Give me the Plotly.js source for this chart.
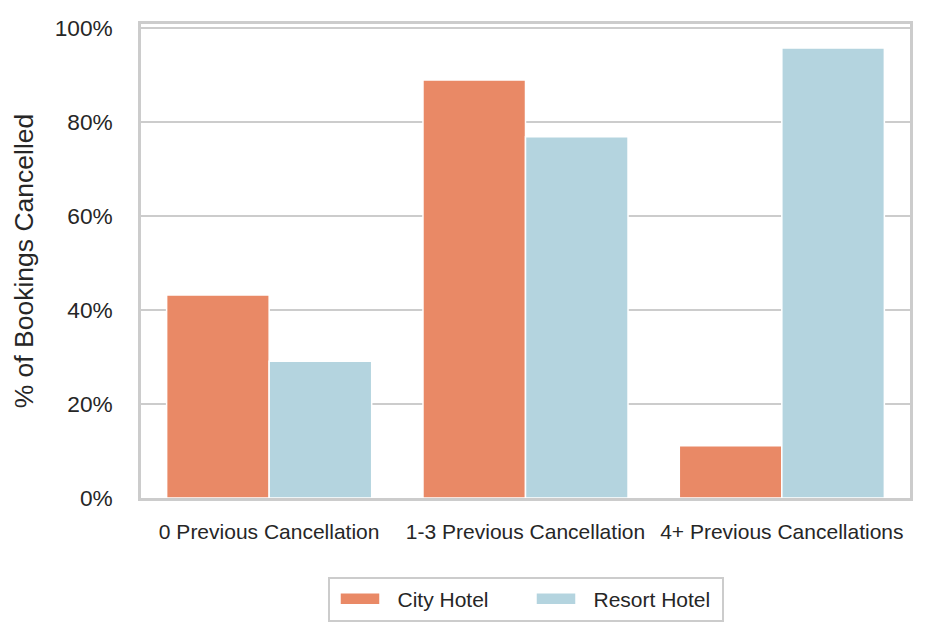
<!DOCTYPE html>
<html>
<head>
<meta charset="utf-8">
<script src="https://cdn.plot.ly/plotly-3.0.1.min.js"></script>
<style>
  html, body { margin: 0; padding: 0; background: #fff; }
  #chart { width: 929px; height: 635px; }
</style>
</head>
<body>
<div id="chart"></div>
<script>
    'use strict';

    // share of bookings cancelled, by number of previous cancellations
    var categories = ['0 Previous Cancellation', '1-3 Previous Cancellation', '4+ Previous Cancellations'];
    var cityHotel = [0.432, 0.890, 0.111];
    var resortHotel = [0.291, 0.769, 0.958];
    var yTicks = [0, 0.2, 0.4, 0.6, 0.8, 1.0];

    var textColor = '#262626';
    var gridColor = '#cccccc';

    var data = [
        {
            type: 'bar',
            name: 'City Hotel',
            x: categories,
            y: cityHotel,
            marker: { color: '#e98966', line: { color: '#ffffff', width: 1.5 } },
            hoverinfo: 'x+y+name'
        },
        {
            type: 'bar',
            name: 'Resort Hotel',
            x: categories,
            y: resortHotel,
            marker: { color: '#b4d4df', line: { color: '#ffffff', width: 1.5 } },
            hoverinfo: 'x+y+name'
        }
    ];

    var layout = {
        width: 929,
        height: 635,
        margin: { l: 141, r: 19, t: 24, b: 137 },
        paper_bgcolor: '#ffffff',
        plot_bgcolor: '#ffffff',
        font: { family: '"Liberation Sans", Arial, sans-serif', color: textColor },
        barmode: 'group',
        bargap: 0.2,
        bargroupgap: 0,
        showlegend: true,
        xaxis: {
            type: 'category',
            range: [-0.5, 2.5],
            showgrid: false,
            zeroline: false,
            showline: true,
            linecolor: gridColor,
            linewidth: 2.5,
            mirror: true,
            ticks: 'outside',
            ticklen: 13,
            tickcolor: 'rgba(0,0,0,0)',
            tickfont: { size: 21, color: textColor },
            fixedrange: true
        },
        yaxis: {
            range: [0, 1.009],
            tickvals: yTicks,
            tickformat: '.0%',
            showgrid: true,
            gridcolor: gridColor,
            gridwidth: 2,
            zeroline: false,
            showline: true,
            linecolor: gridColor,
            linewidth: 2.5,
            mirror: true,
            ticks: 'outside',
            ticklen: 21,
            tickcolor: 'rgba(0,0,0,0)',
            tickfont: { size: 22.7, color: textColor },
            title: { text: '% of Bookings Cancelled', font: { size: 26.5, color: textColor }, standoff: 14 },
            fixedrange: true
        },
        legend: {
            orientation: 'h',
            x: 0.5,
            xanchor: 'center',
            y: -0.166,
            yanchor: 'top',
            bordercolor: gridColor,
            borderwidth: 2,
            font: { size: 21, color: textColor },
            itemwidth: 58,
            entrywidth: 123,
            traceorder: 'normal'
        }
    };

    var config = { displayModeBar: false, responsive: false };

    Plotly.newPlot('chart', data, layout, config).then(function (gd) {
        // seaborn draws wide flat legend patches, widen plotly's square ones
        var patches = gd.querySelectorAll('.legend .legendpoints path');
        patches.forEach(function (p) {
            p.setAttribute('d', 'M-23.5,6H16.5V-6H-23.5Z');
        });
    });
</script>
</body>
</html>
